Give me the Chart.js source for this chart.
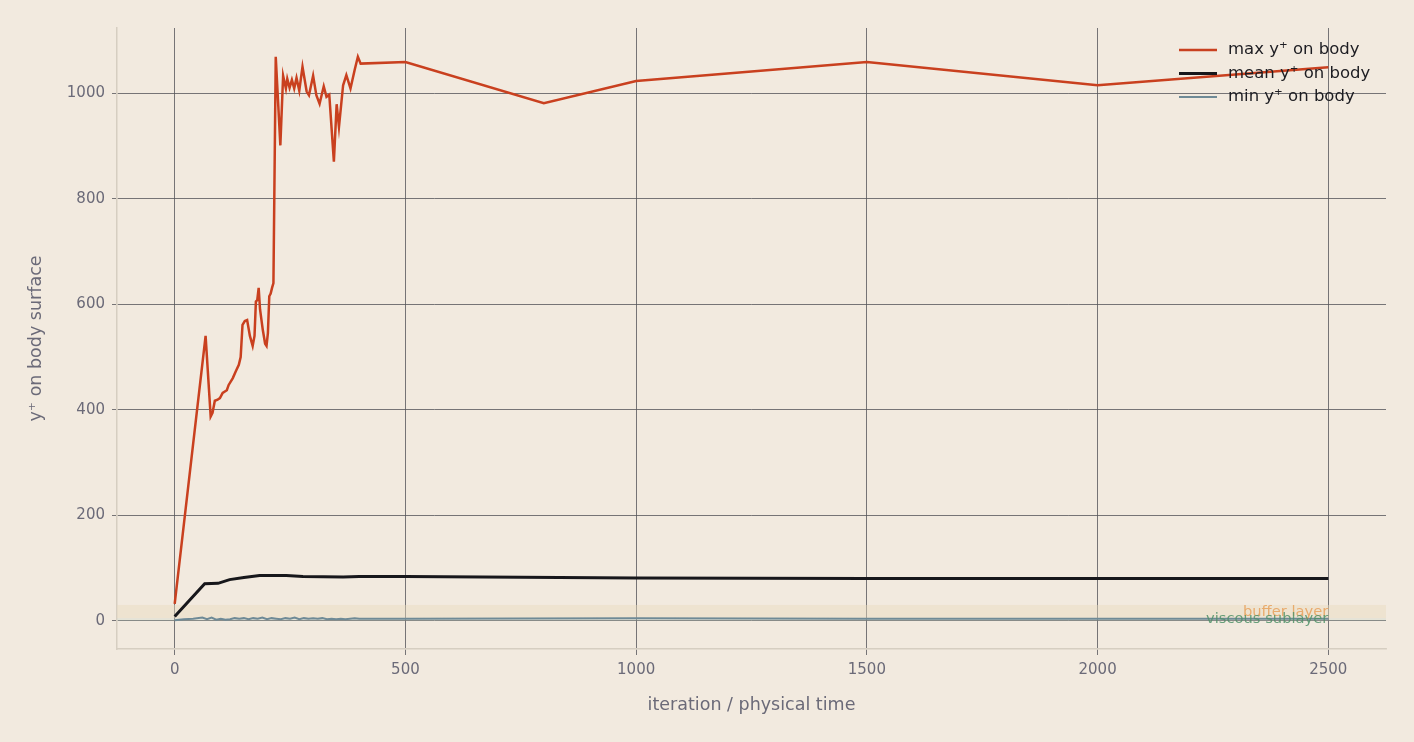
<!DOCTYPE html>
<html>
<head>
<meta charset="utf-8">
<script src="https://cdn.jsdelivr.net/npm/chart.js@4/dist/chart.umd.min.js"></script>
<style>
  html, body { margin: 0; padding: 0; background: #f2eadf; }
  canvas { display: block; }
</style>
</head>
<body>
<canvas id="yplusChart" width="1414" height="742"></canvas>
<script>
// data
var maxIter = [0, 67, 78, 82, 87, 93, 98, 104, 113, 117, 126, 132, 139, 143, 147, 152, 157, 163, 169, 173, 176, 179, 182, 185, 191, 196, 199, 202, 205, 208, 211, 214,
    219, 229, 235, 241, 244, 249, 254, 259, 264, 270, 277, 286, 291, 300, 307, 314, 323, 329, 335, 345, 351, 356, 365, 372, 381, 390, 397, 403,
    500, 800, 1000, 1500, 2000, 2500];
var maxVal = [32, 540, 387, 394, 417, 419, 422, 432, 437, 447, 460, 472, 485, 500, 561, 568, 570, 540, 521, 540, 605, 608, 631, 590, 551, 525, 521, 545, 615, 620, 631, 640,
    1069, 901, 1033, 1009, 1027, 1010, 1025, 1009, 1029, 1005, 1050, 1003, 996, 1033, 996, 980, 1013, 993, 997, 870, 979, 936, 1015, 1034, 1009, 1044, 1069, 1056,
    1059, 981, 1023, 1059, 1015, 1049];

var meanIter = [0, 65, 94, 119, 150, 184, 242, 278, 365, 400, 500, 1000, 1500, 2000, 2500];
var meanVal = [8, 70, 71, 78, 82, 86, 86, 84, 83, 84, 84, 81, 80, 80, 80];

var minIter = [0, 20, 40, 60, 70, 80, 90, 100, 110, 120, 130, 140, 150, 160, 170, 180, 190, 200, 210, 220, 230, 240,
    250, 260, 270, 280, 290, 300, 310, 320, 330, 340, 350, 360, 370, 380, 390, 400, 500, 1000, 1500, 2000, 2500];
var minVal = [1, 3, 4, 6, 3, 6, 2, 4, 2, 3, 5, 4, 5, 3, 5, 4, 6, 3, 5, 4, 3, 5,
    4, 6, 3, 5, 4, 5, 4, 5, 3, 4, 3, 4, 3, 4, 5, 4, 4, 5, 4, 4, 4];

var xTicks = [0, 500, 1000, 1500, 2000, 2500];
var yTicks = [0, 200, 400, 600, 800, 1000];

var seriesLabels = ['max y\u207A on body', 'mean y\u207A on body', 'min y\u207A on body'];

function toPoints(xs, ys) {
    return xs.map(function(x, i) { return {x: x, y: ys[i]}; });
}

var FONT = 'DejaVu Sans';
var TICK_COLOR = '#6b6a78';

// shaded y+ bands near the wall
var bandPlugin = {
    id: 'bands',
    beforeDatasetsDraw: function(chart) {
        var ctx = chart.ctx, area = chart.chartArea;
        var ys = chart.scales.y;
        ctx.save();
        ctx.fillStyle = 'rgba(232, 220, 190, 0.45)';
        ctx.fillRect(area.left, ys.getPixelForValue(30), area.right - area.left, ys.getPixelForValue(5) - ys.getPixelForValue(30));
        ctx.fillStyle = 'rgba(200, 215, 200, 0.30)';
        ctx.fillRect(area.left, ys.getPixelForValue(5), area.right - area.left, ys.getPixelForValue(0) - ys.getPixelForValue(5));
        ctx.restore();
    },
    afterDatasetsDraw: function(chart) {
        var ctx = chart.ctx;
        var xs = chart.scales.x, ys = chart.scales.y;
        ctx.save();
        ctx.font = '14.7px "' + FONT + '"';
        ctx.textAlign = 'right';
        ctx.textBaseline = 'middle';
        ctx.fillStyle = 'rgba(232, 160, 90, 0.85)';
        ctx.fillText('buffer layer', xs.getPixelForValue(2500), ys.getPixelForValue(17));
        ctx.fillStyle = 'rgba(80, 145, 105, 0.85)';
        ctx.fillText('viscous sublayer', xs.getPixelForValue(2500), ys.getPixelForValue(3));
        ctx.restore();
    }
};

// legend drawn inside the plot, top right
var legendPlugin = {
    id: 'insideLegend',
    afterDraw: function(chart) {
        var ctx = chart.ctx, area = chart.chartArea;
        ctx.save();
        ctx.font = '16.5px "' + FONT + '"';
        ctx.textBaseline = 'middle';
        ctx.textAlign = 'left';
        chart.data.datasets.forEach(function(ds, i) {
            var y = area.top + 22 + i * 23.5;
            ctx.strokeStyle = ds.borderColor;
            ctx.lineWidth = ds.borderWidth;
            ctx.beginPath();
            ctx.moveTo(area.right - 207, y);
            ctx.lineTo(area.right - 169, y);
            ctx.stroke();
            ctx.fillStyle = '#1c1c21';
            ctx.fillText(ds.label, area.right - 158, y);
        });
        ctx.restore();
    }
};

var ctx = document.getElementById('yplusChart');
var chart = new Chart(ctx, {
    type: 'line',
    data: {
        datasets: [
            {
                label: seriesLabels[0],
                data: toPoints(maxIter, maxVal),
                borderColor: '#c9401f',
                borderWidth: 2.5,
                pointRadius: 0,
                tension: 0,
                fill: false,
                order: 3
            },
            {
                label: seriesLabels[1],
                data: toPoints(meanIter, meanVal),
                borderColor: '#17171b',
                borderWidth: 3,
                pointRadius: 0,
                tension: 0,
                fill: false,
                order: 1
            },
            {
                label: seriesLabels[2],
                data: toPoints(minIter, minVal),
                borderColor: '#6f8a96',
                borderWidth: 2,
                pointRadius: 0,
                tension: 0,
                fill: false,
                order: 2
            }
        ]
    },
    options: {
        responsive: false,
        animation: false,
        layout: { padding: { top: 28, right: 28, left: 0, bottom: 0 } },
        plugins: {
            legend: { display: false },
            tooltip: { enabled: false }
        },
        scales: {
            x: {
                type: 'linear',
                min: -125,
                max: 2625,
                afterFit: function(scale) { scale.height = 93; },
                afterBuildTicks: function(scale) {
                    scale.ticks = xTicks.map(function(v) { return {value: v}; });
                },
                grid: { color: '#55555a', lineWidth: 0.8, tickLength: 6, tickColor: '#55555a' },
                border: { color: '#d6cec1', width: 1.5 },
                ticks: {
                    color: TICK_COLOR, font: { family: FONT, size: 15 }, padding: 6,
                    callback: function(v) { return String(v); }
                },
                title: {
                    display: true,
                    text: 'iteration / physical time',
                    color: TICK_COLOR,
                    font: { family: FONT, size: 17.5 },
                    padding: { top: 0, bottom: 26 }
                }
            },
            y: {
                type: 'linear',
                min: -53.5,
                max: 1123.5,
                afterFit: function(scale) { scale.width = 117; },
                afterBuildTicks: function(scale) {
                    scale.ticks = yTicks.map(function(v) { return {value: v}; });
                },
                grid: { color: '#55555a', lineWidth: 0.8, tickLength: 5, tickColor: '#55555a' },
                border: { color: '#d6cec1', width: 1.5 },
                ticks: {
                    color: TICK_COLOR, font: { family: FONT, size: 15 }, padding: 7,
                    callback: function(v) { return String(v); }
                },
                title: {
                    display: true,
                    text: 'y\u207A on body surface',
                    color: TICK_COLOR,
                    font: { family: FONT, size: 17.5 },
                    padding: { top: 26, bottom: 0 }
                }
            }
        }
    },
    plugins: [bandPlugin, legendPlugin]
});
</script>
</body>
</html>
